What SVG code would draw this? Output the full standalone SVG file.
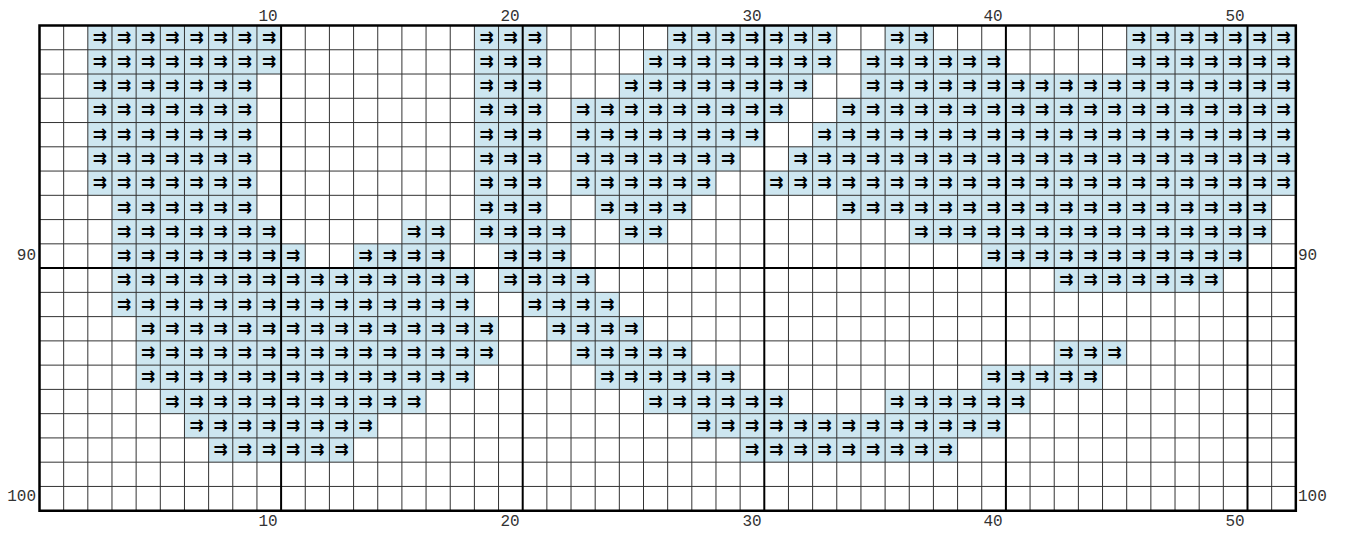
<svg xmlns="http://www.w3.org/2000/svg" width="1346" height="535" viewBox="0 0 1346 535">
<style>
.s{font-family:"DejaVu Sans",sans-serif;font-size:17px;font-weight:bold;fill:#000;text-anchor:middle}
.lb{font-family:"Liberation Mono",monospace;font-size:16px;fill:#333}
.thin{fill:none;stroke:#333;stroke-width:1}
.thick{fill:none;stroke:#000;stroke-width:2}
</style>
<rect width="1346" height="535" fill="#fff"/>
<g id="fills" transform="translate(39.5 25.5) scale(24.16 24.26)" fill="#cde6f0">
<rect x="2" y="0" width="8" height="1"/><rect x="18" y="0" width="3" height="1"/><rect x="26" y="0" width="7" height="1"/><rect x="35" y="0" width="2" height="1"/><rect x="45" y="0" width="7" height="1"/>
<rect x="2" y="1" width="8" height="1"/><rect x="18" y="1" width="3" height="1"/><rect x="25" y="1" width="8" height="1"/><rect x="34" y="1" width="6" height="1"/><rect x="45" y="1" width="7" height="1"/>
<rect x="2" y="2" width="7" height="1"/><rect x="18" y="2" width="3" height="1"/><rect x="24" y="2" width="8" height="1"/><rect x="34" y="2" width="18" height="1"/>
<rect x="2" y="3" width="7" height="1"/><rect x="18" y="3" width="3" height="1"/><rect x="22" y="3" width="9" height="1"/><rect x="33" y="3" width="19" height="1"/>
<rect x="2" y="4" width="7" height="1"/><rect x="18" y="4" width="3" height="1"/><rect x="22" y="4" width="8" height="1"/><rect x="32" y="4" width="20" height="1"/>
<rect x="2" y="5" width="7" height="1"/><rect x="18" y="5" width="3" height="1"/><rect x="22" y="5" width="7" height="1"/><rect x="31" y="5" width="21" height="1"/>
<rect x="2" y="6" width="7" height="1"/><rect x="18" y="6" width="3" height="1"/><rect x="22" y="6" width="6" height="1"/><rect x="30" y="6" width="22" height="1"/>
<rect x="3" y="7" width="6" height="1"/><rect x="18" y="7" width="3" height="1"/><rect x="23" y="7" width="4" height="1"/><rect x="33" y="7" width="18" height="1"/>
<rect x="3" y="8" width="7" height="1"/><rect x="15" y="8" width="2" height="1"/><rect x="18" y="8" width="4" height="1"/><rect x="24" y="8" width="2" height="1"/><rect x="36" y="8" width="15" height="1"/>
<rect x="3" y="9" width="8" height="1"/><rect x="13" y="9" width="4" height="1"/><rect x="19" y="9" width="3" height="1"/><rect x="39" y="9" width="11" height="1"/>
<rect x="3" y="10" width="15" height="1"/><rect x="19" y="10" width="4" height="1"/><rect x="42" y="10" width="7" height="1"/>
<rect x="3" y="11" width="15" height="1"/><rect x="20" y="11" width="4" height="1"/>
<rect x="4" y="12" width="15" height="1"/><rect x="21" y="12" width="4" height="1"/>
<rect x="4" y="13" width="15" height="1"/><rect x="22" y="13" width="5" height="1"/><rect x="42" y="13" width="3" height="1"/>
<rect x="4" y="14" width="14" height="1"/><rect x="23" y="14" width="6" height="1"/><rect x="39" y="14" width="5" height="1"/>
<rect x="5" y="15" width="11" height="1"/><rect x="25" y="15" width="6" height="1"/><rect x="35" y="15" width="6" height="1"/>
<rect x="6" y="16" width="8" height="1"/><rect x="27" y="16" width="13" height="1"/>
<rect x="7" y="17" width="6" height="1"/><rect x="29" y="17" width="9" height="1"/>
</g>
<g id="grid" transform="translate(39.5 25.5) scale(24.16 24.26)">
<path class="thin" vector-effect="non-scaling-stroke" d="M1 0V20M2 0V20M3 0V20M4 0V20M5 0V20M6 0V20M7 0V20M8 0V20M9 0V20M11 0V20M12 0V20M13 0V20M14 0V20M15 0V20M16 0V20M17 0V20M18 0V20M19 0V20M21 0V20M22 0V20M23 0V20M24 0V20M25 0V20M26 0V20M27 0V20M28 0V20M29 0V20M31 0V20M32 0V20M33 0V20M34 0V20M35 0V20M36 0V20M37 0V20M38 0V20M39 0V20M41 0V20M42 0V20M43 0V20M44 0V20M45 0V20M46 0V20M47 0V20M48 0V20M49 0V20M51 0V20M0 1H52M0 2H52M0 3H52M0 4H52M0 5H52M0 6H52M0 7H52M0 8H52M0 9H52M0 11H52M0 12H52M0 13H52M0 14H52M0 15H52M0 16H52M0 17H52M0 18H52M0 19H52"/>
<path class="thick" vector-effect="non-scaling-stroke" d="M10 0V20M20 0V20M30 0V20M40 0V20M50 0V20M0 10H52"/>
<rect class="thick" vector-effect="non-scaling-stroke" x="0" y="0" width="52" height="20" style="stroke-width:2.5"/>
</g>
<g id="symbols">
<text class="s" x="99.9 124.1 148.2 172.4 196.5 220.7 244.9 269" y="42.6">⇉⇉⇉⇉⇉⇉⇉⇉</text>
<text class="s" x="486.5 510.6 534.8" y="42.6">⇉⇉⇉</text>
<text class="s" x="679.7 703.9 728.1 752.2 776.4 800.5 824.7" y="42.6">⇉⇉⇉⇉⇉⇉⇉</text>
<text class="s" x="897.2 921.3" y="42.6">⇉⇉</text>
<text class="s" x="1138.8 1162.9 1187.1 1211.3 1235.4 1259.6 1283.7" y="42.6">⇉⇉⇉⇉⇉⇉⇉</text>

<text class="s" x="99.9 124.1 148.2 172.4 196.5 220.7 244.9 269" y="66.9">⇉⇉⇉⇉⇉⇉⇉⇉</text>
<text class="s" x="486.5 510.6 534.8" y="66.9">⇉⇉⇉</text>
<text class="s" x="655.6 679.7 703.9 728.1 752.2 776.4 800.5 824.7" y="66.9">⇉⇉⇉⇉⇉⇉⇉⇉</text>
<text class="s" x="873 897.2 921.3 945.5 969.7 993.8" y="66.9">⇉⇉⇉⇉⇉⇉</text>
<text class="s" x="1138.8 1162.9 1187.1 1211.3 1235.4 1259.6 1283.7" y="66.9">⇉⇉⇉⇉⇉⇉⇉</text>

<text class="s" x="99.9 124.1 148.2 172.4 196.5 220.7 244.9" y="91.2">⇉⇉⇉⇉⇉⇉⇉</text>
<text class="s" x="486.5 510.6 534.8" y="91.2">⇉⇉⇉</text>
<text class="s" x="631.4 655.6 679.7 703.9 728.1 752.2 776.4 800.5" y="91.2">⇉⇉⇉⇉⇉⇉⇉⇉</text>
<text class="s" x="873 897.2 921.3 945.5 969.7 993.8 1018 1042.1 1066.3 1090.5 1114.6 1138.8 1162.9 1187.1 1211.3 1235.4 1259.6 1283.7" y="91.2">⇉⇉⇉⇉⇉⇉⇉⇉⇉⇉⇉⇉⇉⇉⇉⇉⇉⇉</text>

<text class="s" x="99.9 124.1 148.2 172.4 196.5 220.7 244.9" y="115.4">⇉⇉⇉⇉⇉⇉⇉</text>
<text class="s" x="486.5 510.6 534.8" y="115.4">⇉⇉⇉</text>
<text class="s" x="583.1 607.3 631.4 655.6 679.7 703.9 728.1 752.2 776.4" y="115.4">⇉⇉⇉⇉⇉⇉⇉⇉⇉</text>
<text class="s" x="848.9 873 897.2 921.3 945.5 969.7 993.8 1018 1042.1 1066.3 1090.5 1114.6 1138.8 1162.9 1187.1 1211.3 1235.4 1259.6 1283.7" y="115.4">⇉⇉⇉⇉⇉⇉⇉⇉⇉⇉⇉⇉⇉⇉⇉⇉⇉⇉⇉</text>

<text class="s" x="99.9 124.1 148.2 172.4 196.5 220.7 244.9" y="139.7">⇉⇉⇉⇉⇉⇉⇉</text>
<text class="s" x="486.5 510.6 534.8" y="139.7">⇉⇉⇉</text>
<text class="s" x="583.1 607.3 631.4 655.6 679.7 703.9 728.1 752.2" y="139.7">⇉⇉⇉⇉⇉⇉⇉⇉</text>
<text class="s" x="824.7 848.9 873 897.2 921.3 945.5 969.7 993.8 1018 1042.1 1066.3 1090.5 1114.6 1138.8 1162.9 1187.1 1211.3 1235.4 1259.6 1283.7" y="139.7">⇉⇉⇉⇉⇉⇉⇉⇉⇉⇉⇉⇉⇉⇉⇉⇉⇉⇉⇉⇉</text>

<text class="s" x="99.9 124.1 148.2 172.4 196.5 220.7 244.9" y="163.9">⇉⇉⇉⇉⇉⇉⇉</text>
<text class="s" x="486.5 510.6 534.8" y="163.9">⇉⇉⇉</text>
<text class="s" x="583.1 607.3 631.4 655.6 679.7 703.9 728.1" y="163.9">⇉⇉⇉⇉⇉⇉⇉</text>
<text class="s" x="800.5 824.7 848.9 873 897.2 921.3 945.5 969.7 993.8 1018 1042.1 1066.3 1090.5 1114.6 1138.8 1162.9 1187.1 1211.3 1235.4 1259.6 1283.7" y="163.9">⇉⇉⇉⇉⇉⇉⇉⇉⇉⇉⇉⇉⇉⇉⇉⇉⇉⇉⇉⇉⇉</text>

<text class="s" x="99.9 124.1 148.2 172.4 196.5 220.7 244.9" y="188.2">⇉⇉⇉⇉⇉⇉⇉</text>
<text class="s" x="486.5 510.6 534.8" y="188.2">⇉⇉⇉</text>
<text class="s" x="583.1 607.3 631.4 655.6 679.7 703.9" y="188.2">⇉⇉⇉⇉⇉⇉</text>
<text class="s" x="776.4 800.5 824.7 848.9 873 897.2 921.3 945.5 969.7 993.8 1018 1042.1 1066.3 1090.5 1114.6 1138.8 1162.9 1187.1 1211.3 1235.4 1259.6 1283.7" y="188.2">⇉⇉⇉⇉⇉⇉⇉⇉⇉⇉⇉⇉⇉⇉⇉⇉⇉⇉⇉⇉⇉⇉</text>

<text class="s" x="124.1 148.2 172.4 196.5 220.7 244.9" y="212.5">⇉⇉⇉⇉⇉⇉</text>
<text class="s" x="486.5 510.6 534.8" y="212.5">⇉⇉⇉</text>
<text class="s" x="607.3 631.4 655.6 679.7" y="212.5">⇉⇉⇉⇉</text>
<text class="s" x="848.9 873 897.2 921.3 945.5 969.7 993.8 1018 1042.1 1066.3 1090.5 1114.6 1138.8 1162.9 1187.1 1211.3 1235.4 1259.6" y="212.5">⇉⇉⇉⇉⇉⇉⇉⇉⇉⇉⇉⇉⇉⇉⇉⇉⇉⇉</text>

<text class="s" x="124.1 148.2 172.4 196.5 220.7 244.9 269" y="236.7">⇉⇉⇉⇉⇉⇉⇉</text>
<text class="s" x="414 438.1" y="236.7">⇉⇉</text>
<text class="s" x="486.5 510.6 534.8 558.9" y="236.7">⇉⇉⇉⇉</text>
<text class="s" x="631.4 655.6" y="236.7">⇉⇉</text>
<text class="s" x="921.3 945.5 969.7 993.8 1018 1042.1 1066.3 1090.5 1114.6 1138.8 1162.9 1187.1 1211.3 1235.4 1259.6" y="236.7">⇉⇉⇉⇉⇉⇉⇉⇉⇉⇉⇉⇉⇉⇉⇉</text>

<text class="s" x="124.1 148.2 172.4 196.5 220.7 244.9 269 293.2" y="261">⇉⇉⇉⇉⇉⇉⇉⇉</text>
<text class="s" x="365.7 389.8 414 438.1" y="261">⇉⇉⇉⇉</text>
<text class="s" x="510.6 534.8 558.9" y="261">⇉⇉⇉</text>
<text class="s" x="993.8 1018 1042.1 1066.3 1090.5 1114.6 1138.8 1162.9 1187.1 1211.3 1235.4" y="261">⇉⇉⇉⇉⇉⇉⇉⇉⇉⇉⇉</text>

<text class="s" x="124.1 148.2 172.4 196.5 220.7 244.9 269 293.2 317.3 341.5 365.7 389.8 414 438.1 462.3" y="285.2">⇉⇉⇉⇉⇉⇉⇉⇉⇉⇉⇉⇉⇉⇉⇉</text>
<text class="s" x="510.6 534.8 558.9 583.1" y="285.2">⇉⇉⇉⇉</text>
<text class="s" x="1066.3 1090.5 1114.6 1138.8 1162.9 1187.1 1211.3" y="285.2">⇉⇉⇉⇉⇉⇉⇉</text>

<text class="s" x="124.1 148.2 172.4 196.5 220.7 244.9 269 293.2 317.3 341.5 365.7 389.8 414 438.1 462.3" y="309.5">⇉⇉⇉⇉⇉⇉⇉⇉⇉⇉⇉⇉⇉⇉⇉</text>
<text class="s" x="534.8 558.9 583.1 607.3" y="309.5">⇉⇉⇉⇉</text>

<text class="s" x="148.2 172.4 196.5 220.7 244.9 269 293.2 317.3 341.5 365.7 389.8 414 438.1 462.3 486.5" y="333.8">⇉⇉⇉⇉⇉⇉⇉⇉⇉⇉⇉⇉⇉⇉⇉</text>
<text class="s" x="558.9 583.1 607.3 631.4" y="333.8">⇉⇉⇉⇉</text>

<text class="s" x="148.2 172.4 196.5 220.7 244.9 269 293.2 317.3 341.5 365.7 389.8 414 438.1 462.3 486.5" y="358">⇉⇉⇉⇉⇉⇉⇉⇉⇉⇉⇉⇉⇉⇉⇉</text>
<text class="s" x="583.1 607.3 631.4 655.6 679.7" y="358">⇉⇉⇉⇉⇉</text>
<text class="s" x="1066.3 1090.5 1114.6" y="358">⇉⇉⇉</text>

<text class="s" x="148.2 172.4 196.5 220.7 244.9 269 293.2 317.3 341.5 365.7 389.8 414 438.1 462.3" y="382.3">⇉⇉⇉⇉⇉⇉⇉⇉⇉⇉⇉⇉⇉⇉</text>
<text class="s" x="607.3 631.4 655.6 679.7 703.9 728.1" y="382.3">⇉⇉⇉⇉⇉⇉</text>
<text class="s" x="993.8 1018 1042.1 1066.3 1090.5" y="382.3">⇉⇉⇉⇉⇉</text>

<text class="s" x="172.4 196.5 220.7 244.9 269 293.2 317.3 341.5 365.7 389.8 414" y="406.5">⇉⇉⇉⇉⇉⇉⇉⇉⇉⇉⇉</text>
<text class="s" x="655.6 679.7 703.9 728.1 752.2 776.4" y="406.5">⇉⇉⇉⇉⇉⇉</text>
<text class="s" x="897.2 921.3 945.5 969.7 993.8 1018" y="406.5">⇉⇉⇉⇉⇉⇉</text>

<text class="s" x="196.5 220.7 244.9 269 293.2 317.3 341.5 365.7" y="430.8">⇉⇉⇉⇉⇉⇉⇉⇉</text>
<text class="s" x="703.9 728.1 752.2 776.4 800.5 824.7 848.9 873 897.2 921.3 945.5 969.7 993.8" y="430.8">⇉⇉⇉⇉⇉⇉⇉⇉⇉⇉⇉⇉⇉</text>

<text class="s" x="220.7 244.9 269 293.2 317.3 341.5" y="455.1">⇉⇉⇉⇉⇉⇉</text>
<text class="s" x="752.2 776.4 800.5 824.7 848.9 873 897.2 921.3 945.5" y="455.1">⇉⇉⇉⇉⇉⇉⇉⇉⇉</text>
</g>
<g id="labels">
<text class="lb" text-anchor="middle" x="268" y="21">10</text>
<text class="lb" text-anchor="middle" x="510" y="21">20</text>
<text class="lb" text-anchor="middle" x="752" y="21">30</text>
<text class="lb" text-anchor="middle" x="993" y="21">40</text>
<text class="lb" text-anchor="middle" x="1235" y="21">50</text>
<text class="lb" text-anchor="middle" x="268" y="526">10</text>
<text class="lb" text-anchor="middle" x="510" y="526">20</text>
<text class="lb" text-anchor="middle" x="752" y="526">30</text>
<text class="lb" text-anchor="middle" x="993" y="526">40</text>
<text class="lb" text-anchor="middle" x="1235" y="526">50</text>
<text class="lb" text-anchor="end" x="36" y="259.5">90</text>
<text class="lb" text-anchor="end" x="36" y="500.5">100</text>
<text class="lb" text-anchor="start" x="1298" y="259.5">90</text>
<text class="lb" text-anchor="start" x="1298" y="500.5">100</text>
</g>
</svg>
